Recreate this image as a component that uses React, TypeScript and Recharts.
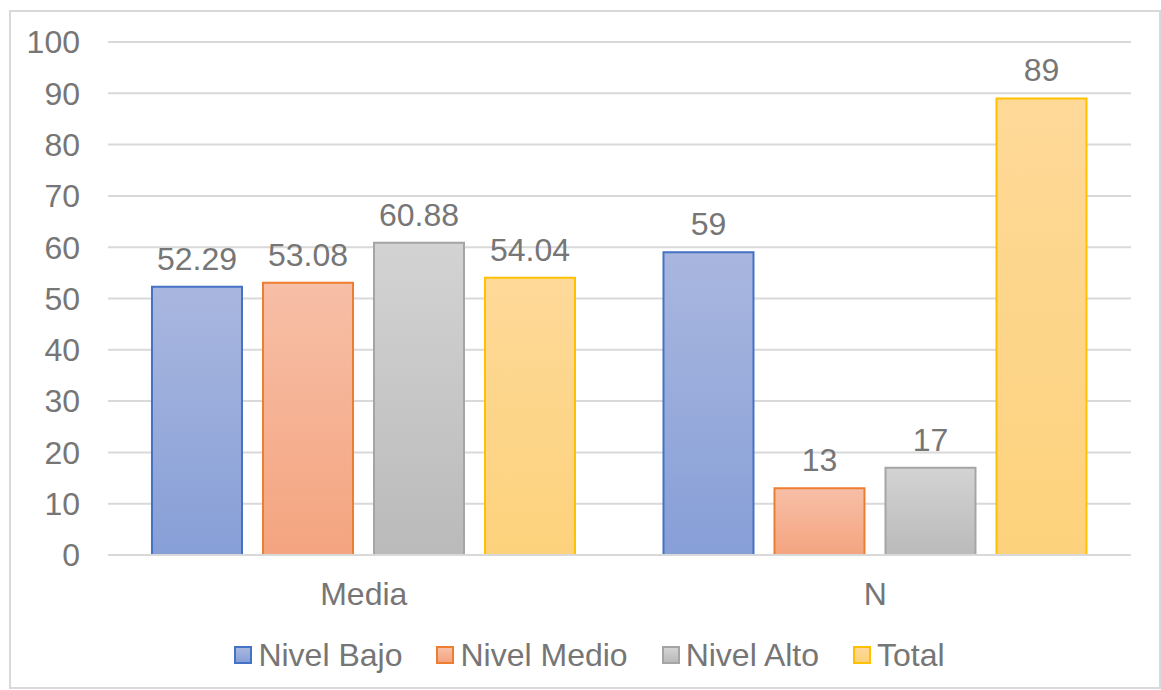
import { BarChart, Bar, XAxis, YAxis, CartesianGrid, Legend, LabelList } from "recharts"

const categories = ["Media", "N"]
const nivelBajo = [52.29, 59]
const nivelMedio = [53.08, 13]
const nivelAlto = [60.88, 17]
const total = [54.04, 89]
const yTicks = [0, 10, 20, 30, 40, 50, 60, 70, 80, 90, 100]

const series = [
  { key: "bajo", name: "Nivel Bajo", stroke: "#4472c4", top: "#a9b7df", bottom: "#879fd7" },
  { key: "medio", name: "Nivel Medio", stroke: "#ed7d31", top: "#f7bfa7", bottom: "#f4a47f" },
  { key: "alto", name: "Nivel Alto", stroke: "#a5a5a5", top: "#d3d3d3", bottom: "#bababa" },
  { key: "total", name: "Total", stroke: "#ffc000", top: "#fed998", bottom: "#fdd27c" }
]

const data = categories.map((c, i) => ({
  name: c,
  bajo: nivelBajo[i],
  medio: nivelMedio[i],
  alto: nivelAlto[i],
  total: total[i]
}))

const FONT = "'Liberation Sans', Arial, sans-serif"
const TEXT = "#767676"
const SIZE = 32

function LegendContent() {
  return (
    <div style={{ display: "flex", justifyContent: "center", alignItems: "center", height: 40, paddingLeft: 18, fontFamily: FONT, fontSize: SIZE, color: TEXT }}>
      {series.map((s, i) => (
        <div key={s.key} style={{ display: "flex", alignItems: "center", marginLeft: i === 0 ? 0 : 34 }}>
          <span
            style={{
              display: "inline-block",
              width: 14,
              height: 14,
              border: `2px solid ${s.stroke}`,
              background: `linear-gradient(${s.top}, ${s.bottom})`,
              marginRight: 6
            }}
          />
          <span>{s.name}</span>
        </div>
      ))}
    </div>
  )
}

export default function App() {
  return (
    <div style={{ position: "absolute", left: 0, top: 0, width: 1161, height: 690, background: "#fff" }}>
      <div
        style={{
          position: "absolute",
          left: 9,
          top: 10,
          width: 1152,
          height: 679,
          boxSizing: "border-box",
          border: "2px solid #d9d9d9"
        }}
      />
      <div style={{ position: "absolute", left: 0, top: 0 }}>
        <BarChart
          width={1161}
          height={690}
          data={data}
          margin={{ top: 42, right: 30, left: 48, bottom: 0 }}
          barCategoryGap="8.6%"
          barGap={21}
        >
          <defs>
            {series.map(s => (
              <linearGradient key={s.key} id={`grad-${s.key}`} x1="0" y1="0" x2="0" y2="1">
                <stop offset="0%" stopColor={s.top} />
                <stop offset="100%" stopColor={s.bottom} />
              </linearGradient>
            ))}
          </defs>
          <CartesianGrid vertical={false} stroke="#d9d9d9" strokeWidth={2} />
          <XAxis
            dataKey="name"
            height={95}
            axisLine={{ stroke: "#d9d9d9", strokeWidth: 2 }}
            tickLine={false}
            tickMargin={21}
            tick={{ fill: TEXT, fontSize: SIZE, fontFamily: FONT }}
          />
          <YAxis
            width={60}
            domain={[0, 100]}
            ticks={yTicks}
            axisLine={false}
            tickLine={false}
            tickMargin={22}
            tick={{ fill: TEXT, fontSize: SIZE, fontFamily: FONT }}
          />
          <Legend
            content={<LegendContent />}
            verticalAlign="bottom"
            wrapperStyle={{ top: 635, left: 0, width: 1161, height: 40 }}
          />
          {series.map(s => (
            <Bar
              key={s.key}
              dataKey={s.key}
              name={s.name}
              fill={`url(#grad-${s.key})`}
              stroke={s.stroke}
              strokeWidth={2}
              isAnimationActive={false}
            >
              <LabelList
                dataKey={s.key}
                position="top"
                offset={17}
                fill={TEXT}
                fontSize={SIZE}
                fontFamily={FONT}
              />
            </Bar>
          ))}
        </BarChart>
      </div>
    </div>
  )
}
